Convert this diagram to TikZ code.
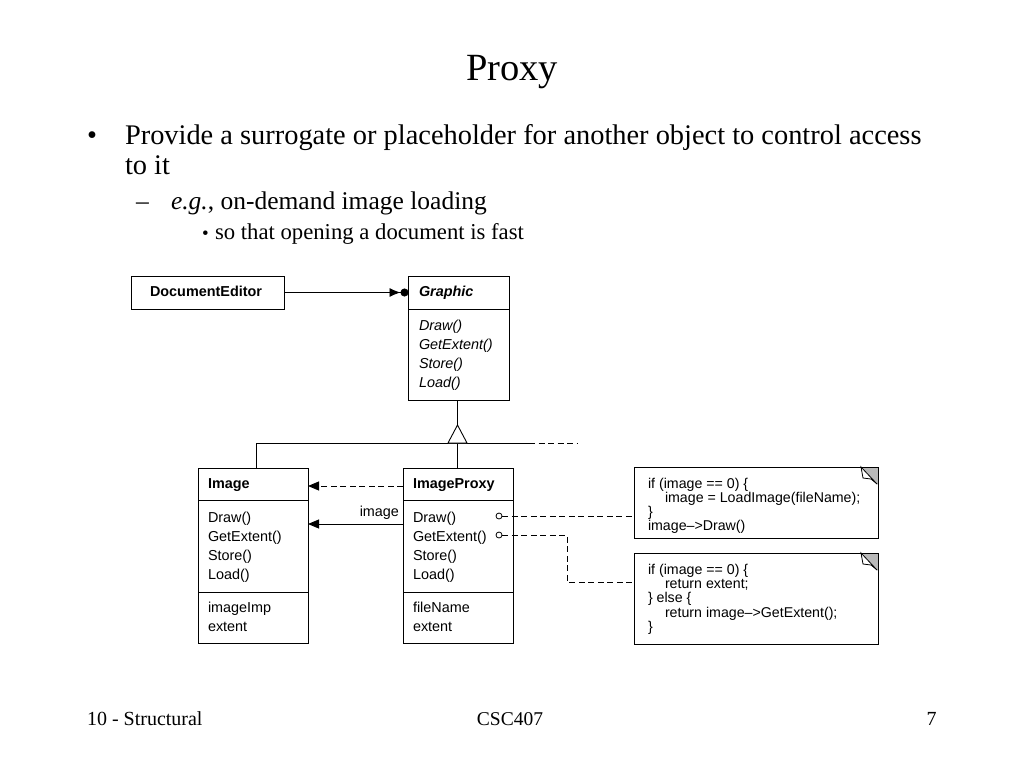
\documentclass[tikz,border=0pt]{standalone}
\usepackage{fontspec}
\setmainfont{Liberation Serif}
\newfontfamily\arial{Liberation Sans}
\usetikzlibrary{arrows.meta}
\newcommand\clsf{\arial\fontsize{14.4}{19.2}\selectfont}
\newcommand\notef{\arial\fontsize{14.2}{14.2}\selectfont}
\tikzset{
  txt/.style={anchor=base west, inner sep=0pt, outer sep=0pt},
  umlbox/.style={draw, rectangle, inner sep=0pt, outer sep=0pt},
  dsh/.style={dash pattern=on 6pt off 3.5pt},
  fat/.style={-{Triangle[length=11pt,width=9pt]}},
}
\begin{document}
\begin{tikzpicture}[x=1pt,y=-1pt,line width=0.9pt]
\useasboundingbox[fill=white] (0,0) rectangle (1024,768);

% ---- slide text
\node[inner sep=0pt, anchor=base] (title) at (512,80) {\fontsize{38.5}{38.5}\selectfont Proxy};
\node[txt] (b1) at (87,144) {\fontsize{28.4}{28.4}\selectfont •};
\node[txt] (t1) at (125,144) {\fontsize{28.4}{30}\selectfont\vtop{\hbox{Provide a surrogate or placeholder for another object to control access}\hbox{to it}}};
\node[txt] (b2) at (136,209) {\fontsize{25.5}{25.5}\selectfont –};
\node[txt] (t2) at (171,209) {\fontsize{25.5}{25.5}\selectfont \textit{e.g.},\ on-demand image loading};
\node[txt] (b3) at (202,239) {\fontsize{19}{19}\selectfont •};
\node[txt] (t3) at (215,239) {\fontsize{22.7}{22.7}\selectfont so that opening a document is fast};

% ---- footer
\node[txt] (f1) at (87,725) {\fontsize{20}{20}\selectfont 10 - Structural};
\node[inner sep=0pt, anchor=base] (f2) at (510,725) {\fontsize{19.5}{19.5}\selectfont CSC407};
\node[inner sep=0pt, anchor=base east] (f3) at (937,725) {\fontsize{20}{20}\selectfont 7};

% ---- boxes
\node[umlbox, minimum width=153pt, minimum height=33pt] (de) at (207.5,292.5) {};
\node[umlbox, minimum width=101pt, minimum height=124pt] (g) at (459,338) {};
\node[umlbox, minimum width=110pt, minimum height=175pt] (img) at (253,555.5) {};
\node[umlbox, minimum width=110pt, minimum height=175pt] (ip) at (458,555.5) {};
\node[umlbox, minimum width=244pt, minimum height=71pt] (n1) at (756,502.5) {};
\node[umlbox, minimum width=244pt, minimum height=91pt] (n2) at (756,598.5) {};

% dividers
\draw (g.west |- 0,309) -- (g.east |- 0,309);
\draw (img.west |- 0,500) -- (img.east |- 0,500);
\draw (img.west |- 0,592) -- (img.east |- 0,592);
\draw (ip.west |- 0,500) -- (ip.east |- 0,500);
\draw (ip.west |- 0,592) -- (ip.east |- 0,592);

% dog ears
\foreach \n in {n1,n2}{
  \fill[gray!55] ([xshift=-18pt]\n.north east) -- (\n.north east) -- ([yshift=-18pt]\n.north east) -- cycle;
  \draw (\n.north west) -- (\n.north east) -- ([yshift=-18pt]\n.north east);
  \filldraw[fill=white, line width=0.8pt] ([xshift=-17pt]\n.north east) -- ([xshift=-15pt,yshift=-11pt]\n.north east) -- ([xshift=-7pt,yshift=-12pt]\n.north east) -- ([xshift=-1pt,yshift=-17pt]\n.north east) -- cycle;
}

% ---- class texts
\node[txt] (det) at (150,296) {\clsf\bfseries DocumentEditor};
\node[txt] (gt) at (419,296) {\clsf\bfseries\itshape Graphic};
\node[txt] (gm) at (419,330) {\clsf\itshape\vtop{\hbox{Draw()}\hbox{GetExtent()}\hbox{Store()}\hbox{Load()}}};
\node[txt] (imt) at (208,488) {\clsf\bfseries Image};
\node[txt] (imm) at (208,522) {\clsf\vtop{\hbox{Draw()}\hbox{GetExtent()}\hbox{Store()}\hbox{Load()}}};
\node[txt] (ima) at (208,612.5) {\clsf\vtop{\hbox{imageImp}\hbox{extent}}};
\node[txt] (ipt) at (413,488) {\clsf\bfseries ImageProxy};
\node[txt] (ipm) at (413,522) {\clsf\vtop{\hbox{Draw()}\hbox{GetExtent()}\hbox{Store()}\hbox{Load()}}};
\node[txt] (ipa) at (413,612.5) {\clsf\vtop{\hbox{fileName}\hbox{extent}}};

% ---- note texts
\node[txt] (n1t) at (648,488) {\notef\vtop{\hbox{if (image == 0) \{}\hbox{\hspace*{17pt}image = LoadImage(fileName);}\hbox{\}}\hbox{image–>Draw()}}};
\node[txt] (n2t) at (648,574.5) {\notef\vtop{\hbox{if (image == 0) \{}\hbox{\hspace*{17pt}return extent;}\hbox{\} else \{}\hbox{\hspace*{17pt}return image–>GetExtent();}\hbox{\}}}};

% ---- connectors
\draw[-{Latex[length=11pt,width=9pt]Circle[length=8pt]}] (de.east) -- (g.west |- de.east);

% inheritance
\coordinate (apex) at (457.5,425);
\coordinate (jl) at (256,443);
\coordinate (js) at (529,443);
\coordinate (je) at (578,443);
\draw ([xshift=-1.5pt]g.south) -- (apex);
\draw (jl) -- (js);
\draw[dsh] (js) -- (je);
\draw (jl) -- (img.north -| jl);
\draw (457.5,443) -- (ip.north -| apex);
\filldraw[fill=white] (448,443) -- (apex) -- (467,443) -- cycle;

% proxy -> image
\draw[dsh, fat] (ip.west |- 0,486) -- (img.east |- 0,486);
\draw[fat] (ip.west |- 0,524) -- (img.east |- 0,524);
\node[txt, anchor=base east] (lbl) at (399,516) {\clsf image};

% note links
\node[circle, draw, line width=0.8pt, minimum size=6pt, inner sep=0pt] (c1) at (499,516) {};
\node[circle, draw, line width=0.8pt, minimum size=6pt, inner sep=0pt] (c2) at (499,535) {};
\coordinate (bend) at (567,582);
\draw[dsh] (c1.east) -- (n1.west |- c1.east);
\draw[dsh] (c2.east) -| (bend) -- (n2.west |- bend);
\end{tikzpicture}
\end{document}
